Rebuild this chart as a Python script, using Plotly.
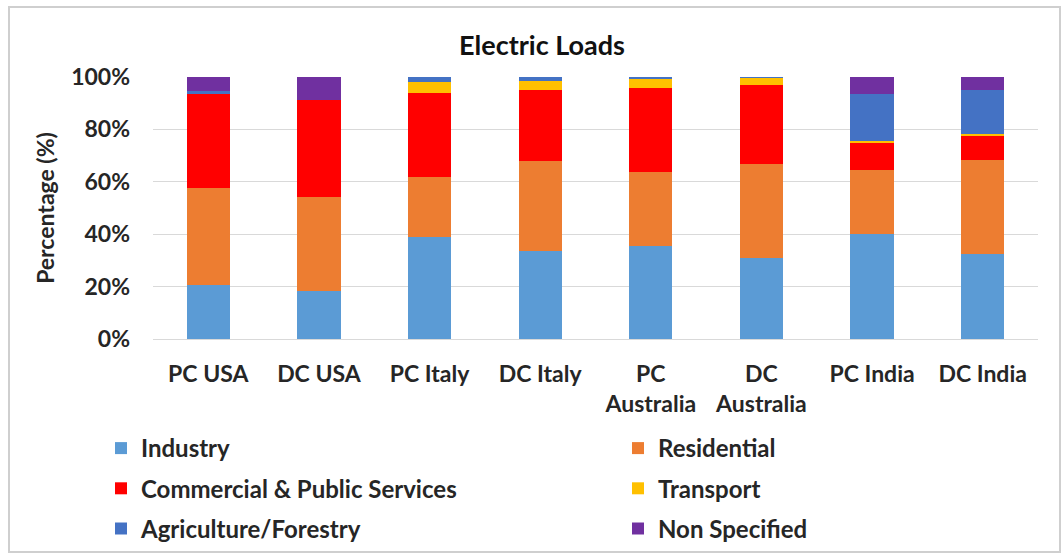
import plotly.graph_objects as go

# Electric load shares by sector (percent of total)
categories = ["PC USA", "DC USA", "PC Italy", "DC Italy",
              "PC<br>Australia", "DC<br>Australia", "PC India", "DC India"]

industry = [20.6, 18.5, 39.0, 33.6, 35.5, 31.0, 40.0, 32.3]
residential = [37.0, 35.8, 22.9, 34.2, 28.1, 35.8, 24.5, 36.0]
commercial = [36.0, 36.8, 32.0, 27.3, 32.3, 30.0, 10.2, 9.0]
transport = [0.0, 0.0, 4.2, 3.4, 3.7, 2.9, 0.8, 1.0]
agriculture = [1.0, 0.0, 1.9, 1.5, 0.4, 0.3, 17.9, 16.8]
non_specified = [5.4, 8.9, 0.0, 0.0, 0.0, 0.0, 6.6, 4.9]

series = [
    ("Industry", industry, "#5B9BD5", "legend"),
    ("Residential", residential, "#ED7D31", "legend2"),
    ("Commercial & Public Services", commercial, "#FF0000", "legend"),
    ("Transport", transport, "#FFC000", "legend2"),
    ("Agriculture/Forestry", agriculture, "#4472C4", "legend"),
    ("Non Specified", non_specified, "#7030A0", "legend2"),
]

W, H = 1062, 554
ML, MR, MT, MB = 153, 24, 77, 215
FONT = "Lato"
TXT = "#262626"
pw, ph = W - ML - MR, H - MT - MB

fig = go.Figure()
for name, vals, color, leg in series:
    fig.add_trace(go.Bar(
        x=categories, y=vals, name=name,
        marker=dict(color=color, line=dict(width=0)),
        legend=leg, legendgroup=name,
    ))

# light frame around the whole chart area
fig.add_shape(type="rect", xref="paper", yref="paper",
              x0=(9 - ML) / pw, x1=(W - 2 - ML) / pw,
              y0=-(MB - 2) / ph, y1=1 + (MT - 7) / ph,
              line=dict(color="#cfcfcf", width=2), layer="below")

legend_common = dict(
    orientation="v", xref="paper", yref="container",
    yanchor="top", xanchor="left",
    font=dict(family=FONT, size=24, color=TXT, weight="bold"),
    tracegroupgap=6, itemwidth=30, bgcolor="rgba(0,0,0,0)",
    traceorder="grouped",
)

fig.update_layout(
    width=W, height=H,
    margin=dict(l=ML, r=MR, t=MT, b=MB, autoexpand=False),
    paper_bgcolor="white", plot_bgcolor="white",
    barmode="stack", bargap=0.61,
    font=dict(family=FONT, color=TXT),
    title=dict(text="<b>Electric Loads</b>", xref="container", yref="container",
               x=542 / W, y=1 - 46 / H, xanchor="center", yanchor="middle",
               font=dict(family=FONT, size=27, color="#111111")),
    legend=dict(x=(101 - ML) / pw, y=1 - 426 / H, **legend_common),
    legend2=dict(x=(618 - ML) / pw, y=1 - 426 / H, **legend_common),
    xaxis=dict(
        tickfont=dict(family=FONT, size=23, color=TXT, weight="bold"),
        showline=False, showgrid=False, ticks="", ticklabelstandoff=19,
        tickangle=0,
    ),
    yaxis=dict(
        range=[0, 100], dtick=20, ticksuffix="%",
        tickfont=dict(family=FONT, size=23, color=TXT, weight="bold"),
        showgrid=True, gridcolor="#d9d9d9", gridwidth=1,
        zeroline=True, zerolinecolor="#d9d9d9", zerolinewidth=1,
        showline=False, ticks="", ticklabelstandoff=22,
        title=dict(text="<b>Percentage (%)</b>", standoff=10,
                   font=dict(family=FONT, size=23, color=TXT)),
    ),
)

fig.write_html("out.html")
